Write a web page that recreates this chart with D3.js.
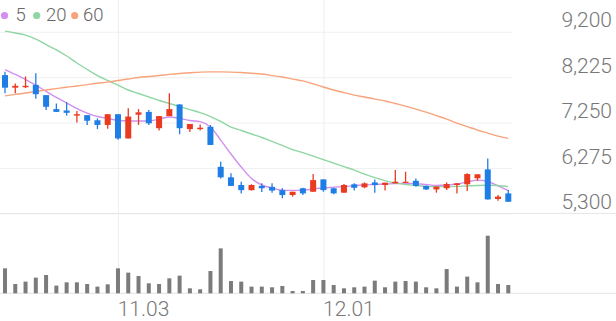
<!DOCTYPE html>
<html>
<head>
<meta charset="utf-8">
<script src="https://cdn.jsdelivr.net/npm/d3@7"></script>
<style>
  body { margin: 0; background: #fff; }
  text { font-family: Roboto, "Noto Sans", sans-serif; }
</style>
</head>
<body>
<script>
//============================================================
// Data
var dates = ["10.17","10.20","10.21","10.22","10.23","10.24","10.27","10.28","10.29","10.30",
  "10.31","11.03","11.04","11.05","11.06","11.07","11.10","11.11","11.12","11.13",
  "11.14","11.17","11.18","11.19","11.20","11.21","11.24","11.25","11.26","11.27",
  "11.28","12.01","12.02","12.03","12.04","12.05","12.08","12.09","12.10","12.11",
  "12.12","12.15","12.16","12.17","12.18","12.19","12.22","12.23","12.24","12.26"];

var open  = [8270,8000,8010,8060,7840,7540,7510,7400,7410,7300, 7200,7430,6910,7420,7480,7130,7390,7640,7110,7110,
             7160,6300,6075,5910,5800,5890,5870,5800,5695,5840, 5765,6030,5840,5745,5925,5860,5965,5910,5945,5960,
             6000,5890,5815,5840,5910,5925,6055,6245,5610,5730];
var high  = [8340,8090,8240,8310,7840,7660,7690,7500,7410,7340, 7430,7430,7560,7540,7520,7390,7880,7640,7220,7210,
             7200,6410,6160,5980,5925,5945,5945,5840,5765,5850, 6145,6030,5850,5930,5945,5965,6030,5960,6230,6195,
             6050,5900,5875,5965,5945,6160,6140,6480,5695,5800];
var low   = [7880,7880,7990,7760,7520,7480,7400,7250,7200,7110, 7120,6880,6910,7200,7200,7080,7390,7000,7050,7080,
             6770,6050,5890,5730,5790,5760,5745,5625,5660,5695, 5765,5765,5710,5745,5790,5840,5745,5790,5945,5960,
             5875,5800,5745,5800,5730,5780,6000,5600,5570,5550];
var close = [8000,8040,8040,7860,7590,7480,7460,7430,7290,7200, 7430,6910,7380,7470,7235,7390,7540,7130,7220,7140,
             6770,6075,5890,5800,5910,5840,5790,5695,5765,5730, 6015,5800,5730,5910,5850,5945,5910,5960,5980,5980,
             5890,5815,5875,5930,5945,6145,6140,5600,5660,5550];

// volume, thousand shares
var volume = [250,93,117,157,183,77,110,110,93,67, 90,250,207,173,100,93,150,177,50,40,
              223,450,123,117,67,67,60,73,23,23, 133,133,83,50,60,67,127,60,117,123,
              117,60,50,243,67,167,110,577,93,83];

var ma5  = [8390,8285,8175,8055,7920,7790,7670,7550,7455,7380, 7340,7295,7285,7285,7285,7325,7370,7340,7295,7270,
            7155,6875,6575,6295,6050,5910,5845,5800,5795,5800, 5825,5845,5865,5875,5895,5910,5920,5930,5940,5945,
            5940,5920,5900,5910,5930,5975,6015,5985,5890,5790];
var ma20 = [9215,9175,9130,9045,8925,8810,8680,8530,8390,8260, 8155,8055,7950,7875,7800,7725,7660,7595,7530,7465,
            7380,7275,7155,7080,7005,6930,6845,6760,6670,6605, 6530,6455,6380,6305,6230,6145,6070,6005,5950,5920,
            5900,5880,5875,5875,5880,5890,5900,5905,5900,5875];
var ma60 = [7825,7855,7885,7920,7950,7980,8010,8035,8065,8095, 8120,8155,8185,8220,8240,8260,8285,8305,8320,8335,
            8340,8340,8335,8325,8310,8295,8260,8230,8185,8145, 8080,8015,7950,7895,7840,7800,7755,7715,7660,7605,
            7540,7475,7400,7325,7240,7165,7090,7025,6960,6910];

var priceTicks = [5300, 6275, 7250, 8225, 9200];
var dateTicks = ["11.03", "12.01"];
var maNames = ["5", "20", "60"];
var maColors = ["#d28ef0", "#8fd6a3", "#f7a47c"];

var upColor = "#ea3a1f", downColor = "#1f7de6", volColor = "#7b7b7b";

//============================================================
// Set up SVG
var W = 616, H = 321;
var svg = d3.select("body")
  .append("svg")
  .attr("width", W)
  .attr("height", H);

var x = d3.scalePoint()
  .domain(dates)
  .range([5, 508.3]);

var y = d3.scaleLinear()
  .domain([5300, 9200])
  .range([213.4, 31.8]);

var yv = d3.scaleLinear()
  .domain([0, d3.max(volume)])
  .range([293.3, 235.7]);

//============================================================
// Grid + axes
svg.append("g")
  .call(d3.axisRight(y).tickValues(priceTicks).tickSize(512).tickFormat(""))
  .call(function (g) {
    g.select(".domain").remove();
    g.selectAll("line").attr("stroke", "#f0f0f0");
  });

svg.append("g")
  .call(d3.axisBottom(x).tickValues(dateTicks).tickSize(293.3).tickFormat(""))
  .call(function (g) {
    g.select(".domain").remove();
    g.selectAll("line").attr("stroke", "#eeeeee");
  });

// price labels, sitting above their gridlines
svg.append("g")
  .attr("transform", "translate(612,0)")
  .call(d3.axisLeft(y).tickValues(priceTicks).tickSize(0).tickFormat(d3.format(",")))
  .call(function (g) {
    g.select(".domain").remove();
    g.selectAll("text")
      .attr("dy", "-5px")
      .attr("x", 0)
      .attr("fill", "#777")
      .style("font-size", "21px")
      .style("font-weight", 300)
      .style("font-family", "Roboto");
  });

// date labels
svg.append("g")
  .attr("transform", "translate(25,316)")
  .call(d3.axisBottom(x).tickValues(dateTicks).tickSize(0))
  .call(function (g) {
    g.select(".domain").remove();
    g.selectAll("text")
      .attr("y", 0)
      .attr("dy", 0)
      .attr("fill", "#777")
      .style("font-size", "21px")
      .style("font-weight", 300)
      .style("font-family", "Roboto");
  });

// pane borders
svg.append("line")
  .attr("x1", 0).attr("x2", W)
  .attr("y1", y(5300)).attr("y2", y(5300))
  .attr("stroke", "#e6e6e6");
svg.append("line")
  .attr("x1", 0).attr("x2", W)
  .attr("y1", yv(0)).attr("y2", yv(0))
  .attr("stroke", "#e2e2e2");

//============================================================
// Moving averages
var mas = [ma5, ma20, ma60];
var line = d3.line()
  .x(function (d, i) { return x(dates[i]); })
  .y(function (d) { return y(d); })
  .curve(d3.curveMonotoneX);

svg.selectAll(".ma")
  .data(mas)
  .enter()
  .append("path")
  .attr("class", "ma")
  .attr("d", line)
  .attr("fill", "none")
  .attr("stroke", function (d, i) { return maColors[i]; })
  .attr("stroke-width", 1.4);

//============================================================
// Candles
var idx = d3.range(dates.length);
var colorOf = function (i) { return close[i] >= open[i] ? upColor : downColor; };

var candles = svg.selectAll(".candle")
  .data(idx)
  .enter()
  .append("g")
  .attr("class", "candle");

candles.append("line")
  .attr("x1", function (i) { return x(dates[i]); })
  .attr("x2", function (i) { return x(dates[i]); })
  .attr("y1", function (i) { return y(high[i]); })
  .attr("y2", function (i) { return y(low[i]); })
  .attr("stroke", colorOf)
  .attr("stroke-width", 1.3);

candles.append("rect")
  .attr("x", function (i) { return x(dates[i]) - 3; })
  .attr("width", 6)
  .attr("y", function (i) { return y(Math.max(open[i], close[i])); })
  .attr("height", function (i) { return Math.max(1.2, Math.abs(y(open[i]) - y(close[i]))); })
  .attr("fill", colorOf);

//============================================================
// Volume
svg.selectAll(".vol")
  .data(idx)
  .enter()
  .append("rect")
  .attr("class", "vol")
  .attr("x", function (i) { return x(dates[i]) - 2; })
  .attr("width", 4)
  .attr("y", function (i) { return yv(volume[i]); })
  .attr("height", function (i) { return yv(0) - yv(volume[i]); })
  .attr("fill", volColor);

//============================================================
// Legend
var dotX = [4.5, 36.7, 74.7], textX = [15.5, 46, 83];

var legend = svg.selectAll(".legend")
  .data(maNames)
  .enter()
  .append("g")
  .attr("class", "legend");

legend.append("circle")
  .attr("cx", function (d, i) { return dotX[i]; })
  .attr("cy", 15.5)
  .attr("r", 3.6)
  .attr("fill", function (d, i) { return maColors[i]; });

legend.append("text")
  .attr("x", function (d, i) { return textX[i]; })
  .attr("y", 21)
  .attr("fill", "#666")
  .style("font-size", "18.5px")
  .style("font-weight", 300)
  .text(function (d) { return d; });
</script>
</body>
</html>
